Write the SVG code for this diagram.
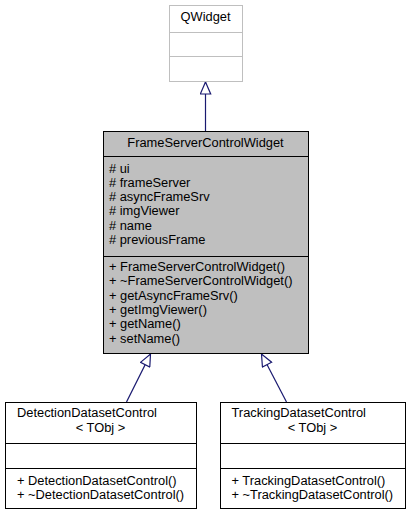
<svg xmlns="http://www.w3.org/2000/svg" width="411" height="515" viewBox="0 0 411 515">
<style>
text{font-family:"Liberation Sans",Arial,sans-serif;font-size:12.85px;fill:#000}
.c{text-anchor:middle}
.qw{fill:#fff;stroke:#bfbfbf;stroke-width:1}
.fs{fill:#bfbfbf;stroke:#000;stroke-width:1}
.cl{fill:#fff;stroke:#000;stroke-width:1}
.edge{fill:none;stroke:#191970;stroke-width:1.2}
</style>
<defs>
<marker id="inh" markerUnits="userSpaceOnUse" markerWidth="14" markerHeight="12" viewBox="0 0 14 12" refX="13" refY="6" orient="auto">
<path d="M1,0.8 L13,6 L1,11.2 z" fill="#fff" stroke="#191970" stroke-width="1.2"/>
</marker>
</defs>
<rect width="411" height="515" fill="#fff"/>
<g id="connectors">
<path class="edge" d="M205.5,131 L205.5,82" marker-end="url(#inh)"/>
<path class="edge" d="M126.5,402 L150.5,354" marker-end="url(#inh)"/>
<path class="edge" d="M286.5,402 L261.5,354" marker-end="url(#inh)"/>
</g>
<g id="QWidget">
<rect class="qw" x="169.5" y="5.5" width="73" height="76"/>
<line class="qw" x1="169.5" y1="32.5" x2="242.5" y2="32.5"/>
<line class="qw" x1="169.5" y1="56.5" x2="242.5" y2="56.5"/>
<text class="c" x="205.5" y="21">QWidget</text>
</g>
<g id="FrameServerControlWidget">
<rect class="fs" x="103.5" y="131.5" width="205" height="222"/>
<line class="fs" x1="103.5" y1="156.5" x2="308.5" y2="156.5"/>
<line class="fs" x1="103.5" y1="256.5" x2="308.5" y2="256.5"/>
<text class="c" x="205.5" y="147">FrameServerControlWidget</text>
<text x="109" y="172.5"># ui</text>
<text x="109" y="186.8"># frameServer</text>
<text x="109" y="201.1"># asyncFrameSrv</text>
<text x="109" y="215.4"># imgViewer</text>
<text x="109" y="229.7"># name</text>
<text x="109" y="244"># previousFrame</text>
<text x="109" y="271">+ FrameServerControlWidget()</text>
<text x="109" y="285.3">+ ~FrameServerControlWidget()</text>
<text x="109" y="299.6">+ getAsyncFrameSrv()</text>
<text x="109" y="313.9">+ getImgViewer()</text>
<text x="109" y="328.2">+ getName()</text>
<text x="109" y="342.5">+ setName()</text>
</g>
<g id="DetectionDatasetControl">
<rect class="cl" x="5.5" y="402.5" width="191" height="106"/>
<line class="cl" x1="5.5" y1="443.5" x2="196.5" y2="443.5"/>
<line class="cl" x1="5.5" y1="468.5" x2="196.5" y2="468.5"/>
<text x="17" y="417">DetectionDatasetControl</text>
<text class="c" x="100.5" y="432">&lt; TObj &gt;</text>
<text x="17" y="484.5">+ DetectionDatasetControl()</text>
<text x="17" y="498.8">+ ~DetectionDatasetControl()</text>
</g>
<g id="TrackingDatasetControl">
<rect class="cl" x="220.5" y="402.5" width="185" height="106"/>
<line class="cl" x1="220.5" y1="443.5" x2="405.5" y2="443.5"/>
<line class="cl" x1="220.5" y1="468.5" x2="405.5" y2="468.5"/>
<text x="231.5" y="417">TrackingDatasetControl</text>
<text class="c" x="312.5" y="432">&lt; TObj &gt;</text>
<text x="231.5" y="484.5">+ TrackingDatasetControl()</text>
<text x="231.5" y="498.8">+ ~TrackingDatasetControl()</text>
</g>
</svg>
